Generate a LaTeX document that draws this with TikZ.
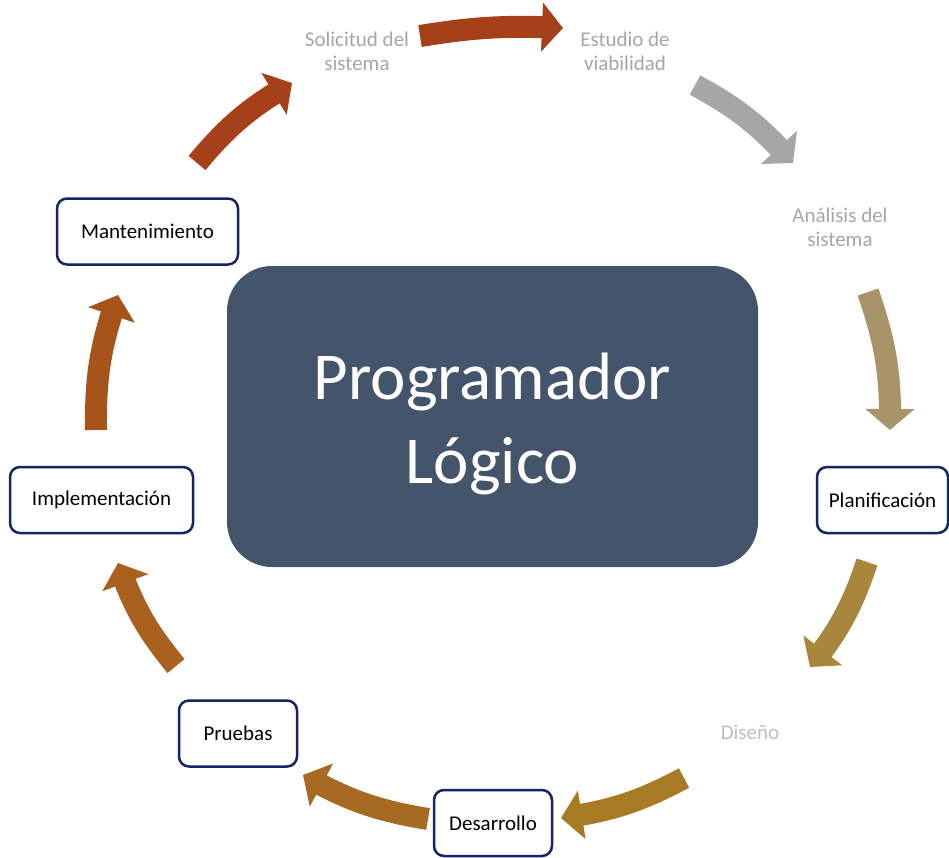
\documentclass[tikz,border=0pt]{standalone}
\usepackage{fontspec}
\setmainfont{Carlito}
\usetikzlibrary{arrows.meta,bending,positioning}
\definecolor{slateblue}{RGB}{68,84,106}
\definecolor{navyline}{RGB}{18,38,100}
\definecolor{labelgray}{RGB}{166,166,166}
\definecolor{lightlabel}{RGB}{190,190,190}
\definecolor{rustA}{RGB}{165,64,26}
\definecolor{grayA}{RGB}{166,166,166}
\definecolor{tanA}{RGB}{168,148,104}
\definecolor{goldA}{RGB}{168,134,60}
\definecolor{goldB}{RGB}{168,122,36}
\definecolor{ochreA}{RGB}{166,106,34}
\definecolor{ochreB}{RGB}{170,96,30}
\definecolor{rustB}{RGB}{166,84,26}
\tikzset{
  stagebox/.style={draw=navyline, line width=2.5pt, rounded corners=10pt, fill=white,
    minimum height=66pt, inner sep=4pt, font=\fontsize{21}{24}\selectfont},
  phaselabel/.style={text=labelgray, align=center, inner sep=0pt, font=\fontsize{21}{24}\selectfont},
  flow/.style={line width=22pt, bend left=10, -{Triangle[width=48pt,length=21pt]}}
}

\begin{document}
\begin{tikzpicture}[x=1pt, y=-1pt]
    \useasboundingbox (0,0) rectangle (949,857);

    % centre block
    \fill[slateblue, rounded corners=45pt] (227,266) rectangle (758,567);
    \node[text=white, align=center, font=\fontsize{67}{84}\selectfont] (title) at (492.5,424) {Programador\\Lógico};

    % stages
    \node[phaselabel] (solicitud) at (357,51) {Solicitud del\\sistema};
    \node[phaselabel] (estudio) at (625,51) {Estudio de\\viabilidad};
    \node[phaselabel] (analisis) at (840,227) {Análisis del\\sistema};
    \node[stagebox, minimum width=131pt] (planif) at (882.5,500) {Planificación};
    \node[phaselabel, text=lightlabel] (diseno) at (750,732) {Diseño};
    \node[stagebox, minimum width=118pt] (desarrollo) at (493,823) {Desarrollo};
    \node[stagebox, minimum width=118pt] (pruebas) at (238,733.5) {Pruebas};
    \node[stagebox, minimum width=183pt] (implem) at (101.5,500) {Implementación};
    \node[stagebox, minimum width=181pt] (mant) at (147.5,231.5) {Mantenimiento};

    % arrow ends
    \coordinate (s1) at (420,36);  \coordinate (e1) at (563,28);
    \coordinate (s2) at (695,85);  \coordinate (e2) at (793,163);
    \coordinate (s3) at (868,292); \coordinate (e3) at (890,430);
    \coordinate (s4) at (867,562); \coordinate (e4) at (810,667);
    \coordinate (s5) at (684,778); \coordinate (e5) at (561,818);
    \coordinate (s6) at (428,819); \coordinate (e6) at (303,775);
    \coordinate (s7) at (176,666); \coordinate (e7) at (118,563);
    \coordinate (s8) at (96,430);  \coordinate (e8) at (118,295);
    \coordinate (s9) at (197,163); \coordinate (e9) at (292,83);

    \draw[flow, rustA, bend left=6] (s1) to (e1);
    \draw[flow, grayA] (s2) to (e2);
    \draw[flow, tanA] (s3) to (e3);
    \draw[flow, goldA] (s4) to (e4);
    \draw[flow, goldB] (s5) to (e5);
    \draw[flow, ochreA] (s6) to (e6);
    \draw[flow, ochreB] (s7) to (e7);
    \draw[flow, rustB] (s8) to (e8);
    \draw[flow, rustA] (s9) to (e9);
\end{tikzpicture}
\end{document}
